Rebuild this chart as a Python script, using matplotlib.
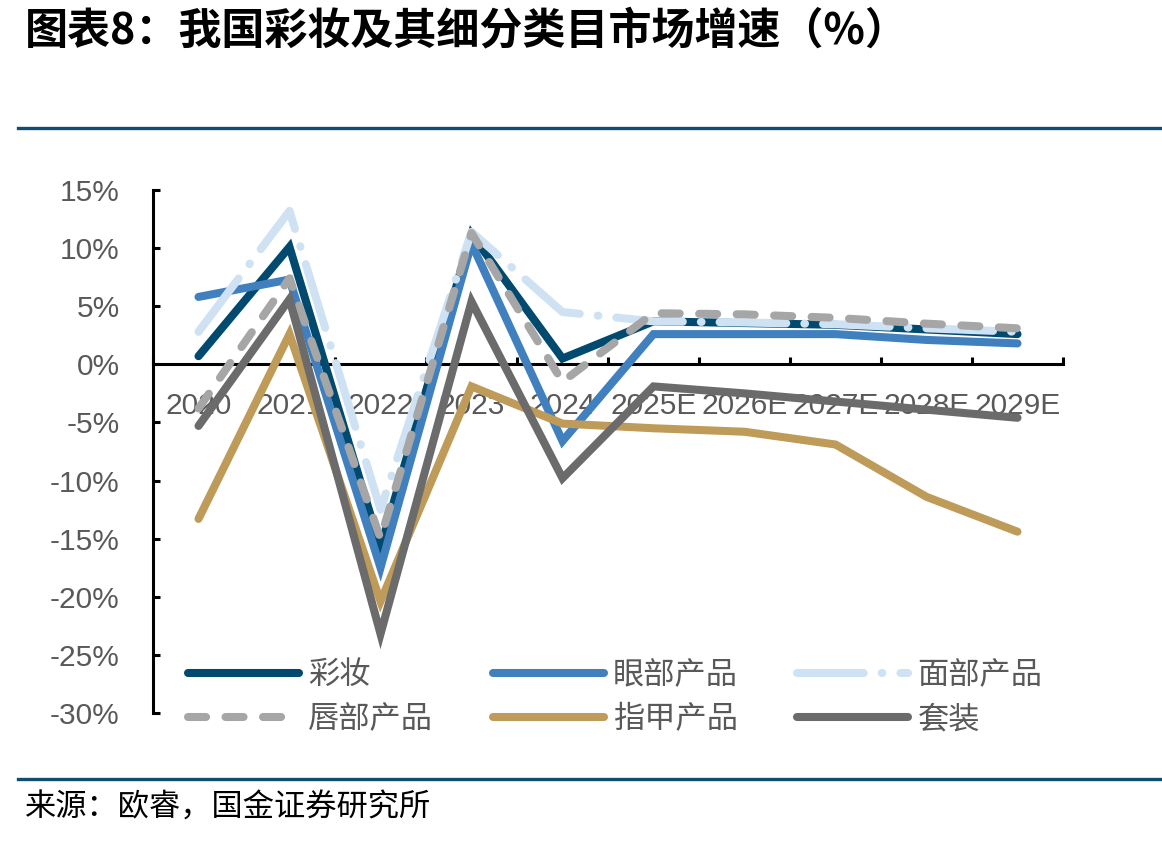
import matplotlib
matplotlib.use("Agg")
import matplotlib.pyplot as plt
from matplotlib.lines import Line2D

plt.rcParams['font.family'] = ['Liberation Sans', 'Noto Sans CJK SC']
plt.rcParams['lines.scale_dashes'] = False

categories = ["2020", "2021", "2022", "2023", "2024", "2025E", "2026E", "2027E", "2028E", "2029E"]
series_names = ["彩妆", "眼部产品", "面部产品", "唇部产品", "指甲产品", "套装"]
cosmetics = [0.7, 10.1, -15.8, 11.2, 0.5, 3.7, 3.55, 3.4, 3.0, 2.6]
eye = [5.8, 7.3, -17.5, 10.4, -6.6, 2.6, 2.6, 2.6, 2.1, 1.8]
face = [2.8, 13.2, -12.5, 11.4, 4.5, 3.7, 3.6, 3.45, 3.1, 2.8]
lip = [-3.8, 7.4, -15.0, 11.3, -1.5, 4.4, 4.3, 4.0, 3.5, 3.1]
nail = [-13.3, 2.6, -20.4, -1.9, -5.1, -5.5, -5.8, -6.9, -11.4, -14.4]
kit = [-5.3, 5.6, -23.2, 5.4, -9.8, -1.9, -2.5, -3.2, -3.9, -4.6]
y_ticks = [15, 10, 5, 0, -5, -10, -15, -20, -25, -30]

W, H = 1162, 841
fig = plt.figure(figsize=(W / 100, H / 100), dpi=100)
ax = fig.add_axes([153 / W, 1 - 713 / H, (1063 - 153) / W, (713 - 190) / H])

lw = 5.8
styles = [
    dict(color="#004A70", ls="-"),
    dict(color="#4080BF", ls="-"),
    dict(color="#CFE2F3", ls=(0, (48, 13, 0.5, 13))),
    dict(color="#A6A6A6", ls=(0, (13, 14))),
    dict(color="#BF9B5A", ls="-"),
    dict(color="#6B6B6B", ls="-"),
]
data = [cosmetics, eye, face, lip, nail, kit]
x = list(range(len(categories)))
lines = []
for name, vals, st in zip(series_names, data, styles):
    ln, = ax.plot(x, vals, color=st["color"], linestyle=st["ls"], lw=lw,
                  solid_capstyle="round", dash_capstyle="round",
                  solid_joinstyle="miter", label=name)
    lines.append(ln)

ax.set_xlim(-0.5, len(categories) - 0.5)
ax.set_ylim(-30, 15)

for s in ["top", "right"]:
    ax.spines[s].set_visible(False)
ax.spines["bottom"].set_position(("data", 0))
ax.spines["bottom"].set_linewidth(2.2)
ax.spines["left"].set_linewidth(2.2)
ax.spines["bottom"].set_zorder(1)

ax.set_yticks(y_ticks)
ax.set_yticklabels([f"{v}%" for v in y_ticks])
ax.tick_params(axis="y", direction="in", length=5, width=2.2, pad=24,
               labelsize=21.5, labelcolor="#595959")

ax.set_xticks([i - 0.5 for i in range(len(categories) + 1)])
ax.set_xticklabels([])
ax.tick_params(axis="x", which="major", direction="in", length=5, width=2.2)
ax.set_xticks(x, minor=True)
ax.set_xticklabels(categories, minor=True)
ax.tick_params(axis="x", which="minor", length=0, pad=20, labelsize=21.5,
               labelcolor="#595959")

order = [0, 3, 1, 4, 2, 5]
leg = ax.legend([lines[i] for i in order], [series_names[i] for i in order],
                ncol=3, loc="upper left",
                bbox_to_anchor=(188 / W, 1 - 661 / H), bbox_transform=fig.transFigure,
                frameon=False, fontsize=22.5, handlelength=3.55, handletextpad=0.3,
                columnspacing=1.9, labelspacing=0.45, borderpad=0, borderaxespad=0)
for t in leg.get_texts():
    t.set_color("#595959")

fig.text(25 / W, 1 - 30 / H, "图表8：我国彩妆及其细分类目市场增速（%）",
         fontsize=31, fontweight="bold", family=["Noto Sans CJK SC", "DejaVu Sans"],
         va="center", ha="left", color="black")
fig.text(25 / W, 1 - 808 / H, "来源：欧睿，国金证券研究所",
         fontsize=22.5, family=["Noto Sans CJK SC", "DejaVu Sans"],
         va="center", ha="left", color="black")

for yy in (128, 779):
    fig.add_artist(Line2D([18 / W, 1.0], [1 - yy / H, 1 - yy / H],
                          transform=fig.transFigure, color="#0F4D73", lw=2.4))

fig.savefig("out.png", dpi=100)
